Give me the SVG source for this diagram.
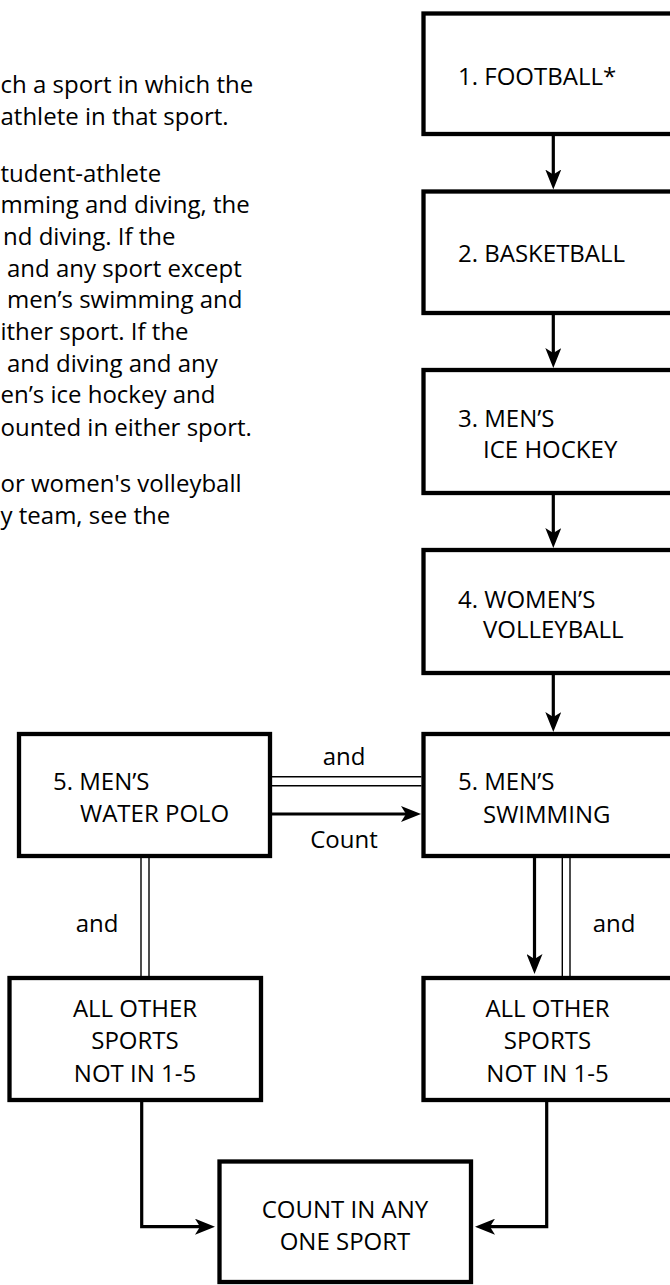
<svg xmlns="http://www.w3.org/2000/svg" width="670" height="1285" viewBox="0 0 670 1285">
<defs>
<style>
.box{fill:#fff;stroke:#000;stroke-width:4.3}
.t{font-family:"Open Sans","Liberation Sans",Arial,sans-serif;font-size:24px;fill:#000}
.c{text-anchor:middle}
.conn{fill:none;stroke:#000;stroke-width:3.2}
.thin{fill:none;stroke:#000;stroke-width:1.4}
</style>
<marker id="ah" markerUnits="userSpaceOnUse" viewBox="0 0 20 16" refX="14" refY="8" markerWidth="20" markerHeight="16" orient="auto">
<path d="M0,0 L20,8 L0,16 L5,8 Z" fill="#000"/>
</marker>
</defs>
<rect width="670" height="1285" fill="#fff"/>

<g id="notes" class="t">
<text x="0.5" y="93">ch a sport in which the</text>
<text x="0.5" y="125">athlete in that sport.</text>
<text x="0.5" y="182">tudent-athlete</text>
<text x="0.5" y="213">mming and diving, the</text>
<text x="3" y="245">nd diving. If the</text>
<text x="7" y="277">and any sport except</text>
<text x="7" y="308">men’s swimming and</text>
<text x="0.5" y="340">ither sport. If the</text>
<text x="7" y="372">and diving and any</text>
<text x="0.5" y="403">en’s ice hockey and</text>
<text x="0.5" y="436">ounted in either sport.</text>
<text x="0.5" y="492">or women's volleyball</text>
<text x="0.5" y="523.5">y team, see the</text>
</g>

<g id="football">
<rect class="box" x="423.5" y="13.5" width="252" height="120.5"/>
<text class="t" x="458" y="85">1. FOOTBALL*</text>
</g>
<g id="basketball">
<rect class="box" x="423.5" y="191.5" width="252" height="121.5"/>
<text class="t" x="458" y="262">2. BASKETBALL</text>
</g>
<g id="ice-hockey">
<rect class="box" x="423.5" y="370" width="252" height="123"/>
<text class="t" x="458" y="427">3. MEN’S</text>
<text class="t" x="483" y="458">ICE HOCKEY</text>
</g>
<g id="volleyball">
<rect class="box" x="423.5" y="550" width="252" height="123"/>
<text class="t" x="458" y="607.5">4. WOMEN’S</text>
<text class="t" x="483" y="638">VOLLEYBALL</text>
</g>
<g id="swimming">
<rect class="box" x="423.5" y="734" width="252" height="122"/>
<text class="t" x="458" y="790">5. MEN’S</text>
<text class="t" x="483" y="822.5">SWIMMING</text>
</g>
<g id="water-polo">
<rect class="box" x="19" y="734" width="251" height="122"/>
<text class="t" x="53" y="790">5. MEN’S</text>
<text class="t" x="80" y="822">WATER POLO</text>
</g>
<g id="other-left">
<rect class="box" x="9.5" y="978" width="251.5" height="122"/>
<text class="t c" x="135" y="1017">ALL OTHER</text>
<text class="t c" x="135" y="1049">SPORTS</text>
<text class="t c" x="135" y="1081.5">NOT IN 1-5</text>
</g>
<g id="other-right">
<rect class="box" x="423.5" y="978" width="252" height="122"/>
<text class="t c" x="547.5" y="1017">ALL OTHER</text>
<text class="t c" x="547.5" y="1049">SPORTS</text>
<text class="t c" x="547.5" y="1081.5">NOT IN 1-5</text>
</g>
<g id="count-any">
<rect class="box" x="219.5" y="1161.5" width="251.5" height="120.5"/>
<text class="t c" x="345" y="1218">COUNT IN ANY</text>
<text class="t c" x="345" y="1250">ONE SPORT</text>
</g>

<g id="connectors">
<line class="conn" x1="553.3" y1="136" x2="553.3" y2="183.5" marker-end="url(#ah)"/>
<line class="conn" x1="553.3" y1="315" x2="553.3" y2="362" marker-end="url(#ah)"/>
<line class="conn" x1="553.3" y1="495" x2="553.3" y2="542" marker-end="url(#ah)"/>
<line class="conn" x1="553.3" y1="675" x2="553.3" y2="726" marker-end="url(#ah)"/>
<line class="thin" x1="272" y1="776.7" x2="421.5" y2="776.7"/>
<line class="thin" x1="272" y1="785.7" x2="421.5" y2="785.7"/>
<line class="conn" x1="272" y1="814" x2="415" y2="814" marker-end="url(#ah)"/>
<text class="t c" x="344" y="765">and</text>
<text class="t c" x="344" y="848">Count</text>
<line class="thin" x1="141" y1="858" x2="141" y2="976"/>
<line class="thin" x1="149" y1="858" x2="149" y2="976"/>
<text class="t c" x="97" y="931.7">and</text>
<line class="conn" x1="534.5" y1="858" x2="534.5" y2="968" marker-end="url(#ah)"/>
<line class="thin" x1="562.3" y1="858" x2="562.3" y2="976"/>
<line class="thin" x1="570" y1="858" x2="570" y2="976"/>
<text class="t c" x="614" y="931.7">and</text>
<path class="conn" d="M141.7,1102 V1226.7 H209" marker-end="url(#ah)"/>
<path class="conn" d="M546.7,1102 V1226.7 H481" marker-end="url(#ah)"/>
</g>
</svg>
